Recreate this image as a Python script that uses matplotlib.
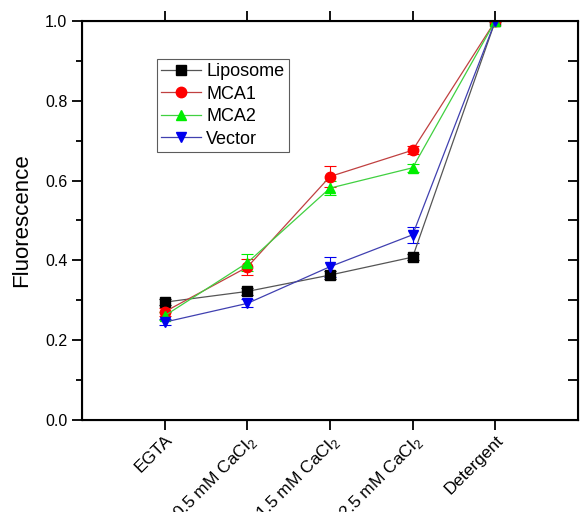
import numpy as np
import matplotlib
matplotlib.use("Agg")
from matplotlib import pyplot as plt
from matplotlib.ticker import MultipleLocator, FormatStrFormatter
from matplotlib.lines import Line2D

plt.rcParams['font.family'] = ['Liberation Sans', 'DejaVu Sans']
plt.rcParams['mathtext.fontset'] = 'custom'
plt.rcParams['mathtext.rm'] = 'Liberation Sans'

conditions = ['EGTA', r'0.5 mM CaCl$_2$', r'1.5 mM CaCl$_2$', r'2.5 mM CaCl$_2$', 'Detergent']
liposome = [0.295, 0.322, 0.363, 0.408, 1.0]
liposome_err = [0.008, 0.008, 0.010, 0.008, 0.0]
mca1 = [0.271, 0.383, 0.610, 0.676, 1.0]
mca1_err = [0.010, 0.020, 0.027, 0.010, 0.0]
mca2 = [0.261, 0.394, 0.581, 0.632, 1.0]
mca2_err = [0.010, 0.022, 0.018, 0.010, 0.0]
vector = [0.245, 0.292, 0.384, 0.464, 1.0]
vector_err = [0.008, 0.010, 0.025, 0.020, 0.0]

x = np.arange(1, len(conditions) + 1)

fig = plt.figure(figsize=(5.82, 5.12), dpi=100)
ax = fig.add_axes([0.141, 0.18, 0.852, 0.779])

series = [
    ('Liposome', liposome, liposome_err, 's', 'black', '#555555', 7),
    ('MCA1', mca1, mca1_err, 'o', '#ff0000', '#c04040', 7.5),
    ('MCA2', mca2, mca2_err, '^', '#00ee00', '#40d040', 7.5),
    ('Vector', vector, vector_err, 'v', '#0000ee', '#4040b0', 7.5),
]
handles = []
for name, vals, err, mk, mc, lc, ms in series:
    ax.errorbar(x, vals, yerr=err, color=lc, ecolor=mc, elinewidth=0.8, capsize=4,
                capthick=0.8, lw=0.9, marker=mk, ms=ms, mfc=mc, mec=mc)
    handles.append(Line2D([], [], color=lc, lw=0.9, marker=mk, ms=ms, mfc=mc, mec=mc, label=name))

ax.set_xlim(0, 6)
ax.set_ylim(0, 1.0)
ax.set_xticks(x)
ax.set_xticklabels(conditions, rotation=45, ha='right', rotation_mode='anchor', fontsize=12.5)
ax.yaxis.set_major_locator(MultipleLocator(0.2))
ax.yaxis.set_minor_locator(MultipleLocator(0.1))
ax.yaxis.set_major_formatter(FormatStrFormatter('%.1f'))
ax.tick_params(axis='y', labelsize=11.5)
ax.set_ylabel('Fluorescence', fontsize=16, labelpad=9)

for s in ax.spines.values():
    s.set_linewidth(1.5)
ax.tick_params(axis='both', which='major', direction='out', length=7, width=1.3)
ax.tick_params(axis='y', which='minor', direction='out', length=4, width=1.3)
ax.tick_params(axis='x', which='major', top=True, pad=2)

# right axis ticks pointing inward without labels
rax = ax.twinx()
rax.set_ylim(0, 1.0)
rax.yaxis.set_major_locator(MultipleLocator(0.1))
rax.tick_params(axis='y', direction='in', length=7, width=1.3, labelright=False)

leg = ax.legend(handles=handles, loc='upper left', bbox_to_anchor=(0.1505, 0.905), fontsize=13,
                frameon=True, fancybox=False, edgecolor='#333333', handlelength=2.2,
                borderpad=0.25, labelspacing=0.3, handletextpad=0.3, borderaxespad=0)
leg.get_frame().set_linewidth(0.8)

plt.savefig('out.png', dpi=100)
